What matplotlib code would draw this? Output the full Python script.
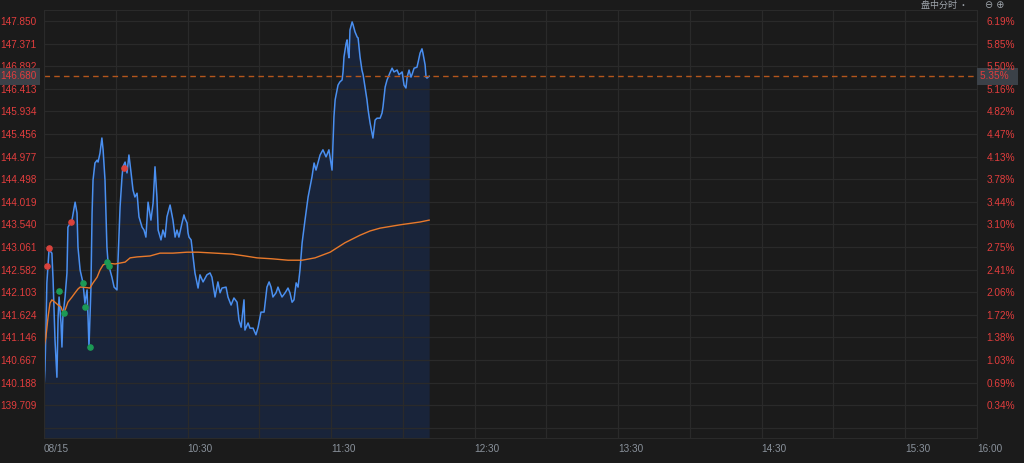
import matplotlib.pyplot as plt

# minutes since 09:30 and price for the intraday line
minutes = [0.0, 0.4, 0.8, 1.2, 2.1, 3.3, 3.8, 4.6, 5.4, 5.9, 6.3, 7.1, 7.5, 7.9, 8.8, 9.6,
           10.0, 11.7, 13.0, 13.8, 14.2, 15.1, 16.3, 17.1, 18.0, 18.4, 18.8, 19.6, 20.1,
           20.5, 21.3, 22.2, 22.6, 23.4, 24.2, 24.7, 25.5, 26.3, 26.8, 28.4, 29.3, 30.5,
           30.9, 31.8, 32.6, 33.0, 33.9, 34.7, 35.5, 36.4, 37.2, 38.0, 38.9, 39.7, 41.0,
           41.8, 42.6, 43.5, 44.7, 45.6, 46.4, 47.2, 47.7, 48.9, 49.7, 50.6, 51.4, 52.7,
           53.9, 54.8, 55.6, 56.4, 57.7, 58.5, 58.9, 59.8, 60.2, 60.6, 61.5, 62.3, 63.1,
           64.4, 65.2, 66.5, 68.1, 69.4, 70.2, 71.5, 72.7, 73.6, 74.4, 76.1, 76.9, 78.2,
           79.4, 80.7, 81.5, 82.4, 83.6, 84.0, 85.3, 86.1, 87.4, 88.6, 89.5, 90.7, 92.0,
           93.2, 94.1, 94.9, 95.7, 97.0, 97.8, 98.7, 99.5, 100.8, 102.0, 102.8, 103.7,
           104.5, 105.4, 106.2, 107.0, 107.9, 109.1, 110.4, 112.0, 112.9, 113.7, 115.4,
           116.6, 117.9, 119.1, 120.4, 121.2, 121.7, 122.5, 122.9, 123.7, 124.6, 125.0,
           125.4, 126.3, 126.7, 127.1, 127.5, 127.9, 128.8, 129.2, 130.0, 130.9, 131.3,
           132.1, 132.9, 133.4, 134.2, 135.0, 135.5, 136.3, 137.1, 137.5, 138.4, 139.2,
           140.5, 141.3, 141.7, 142.6, 143.4, 144.6, 145.5, 146.3, 147.6, 148.4, 149.7,
           150.5, 151.3, 151.8, 152.6, 153.4, 153.8, 154.7, 155.9, 156.4, 157.2, 158.0,
           158.4, 159.3, 159.7, 160.1, 161.0]
price = [140.07, 140.45, 141.30, 142.30, 143.00, 142.93, 142.36, 141.09, 140.30, 141.58,
         142.00, 141.45, 140.94, 141.58, 142.00, 142.51, 143.48, 143.63, 144.01, 143.78,
         143.06, 142.57, 142.30, 141.87, 142.15, 141.58, 140.94, 142.15, 143.78, 144.48,
         144.84, 144.90, 144.86, 145.05, 145.37, 145.12, 144.48, 143.06, 142.72, 142.42,
         142.21, 142.15, 142.72, 143.91, 144.54, 144.76, 144.86, 144.63, 145.01, 144.63,
         144.27, 144.12, 144.20, 143.70, 143.48, 143.42, 143.27, 144.01, 143.63, 143.99,
         144.76, 144.12, 143.42, 143.21, 143.42, 143.27, 143.70, 143.95, 143.63, 143.27,
         143.42, 143.27, 143.57, 143.74, 143.67, 143.57, 143.36, 143.27, 143.21, 142.85,
         142.51, 142.19, 142.47, 142.32, 142.47, 142.51, 142.42, 142.00, 142.32, 142.09,
         142.19, 142.21, 142.00, 141.83, 141.98, 141.89, 141.51, 141.36, 141.94, 141.30,
         141.45, 141.34, 141.34, 141.20, 141.36, 141.68, 141.68, 142.21, 142.32, 142.21,
         142.00, 142.09, 142.21, 142.09, 142.00, 142.09, 142.19, 142.09, 141.89, 141.94,
         142.30, 142.21, 142.57, 143.15, 143.63, 144.12, 144.54, 144.84, 144.69, 145.01,
         145.12, 144.97, 145.12, 144.69, 145.82, 146.18, 146.39, 146.49, 146.56, 146.60,
         146.77, 147.09, 147.38, 147.45, 147.19, 147.07, 147.66, 147.83, 147.77, 147.62,
         147.51, 147.49, 147.09, 146.81, 146.71, 146.45, 146.18, 145.96, 145.69, 145.48,
         145.37, 145.75, 145.79, 145.79, 145.90, 146.03, 146.45, 146.60, 146.75, 146.85,
         146.77, 146.81, 146.71, 146.77, 146.49, 146.43, 146.66, 146.81, 146.66, 146.71,
         146.85, 146.87, 146.98, 147.17, 147.26, 147.17, 146.92, 146.66, 146.64, 146.68]

# average price line
avg_minutes = [0.0, 0.8, 1.7, 2.5, 3.3, 4.6, 5.9, 7.1, 7.9, 8.8, 10.0, 11.7, 13.0, 14.2,
               15.1, 16.3, 19.2, 20.5, 22.2, 23.4, 24.7, 26.3, 29.7, 31.8, 33.9, 36.0,
               38.9, 44.3, 48.5, 53.9, 59.8, 64.4, 71.5, 78.6, 84.0, 89.0, 95.3, 102.0,
               107.9, 113.3, 119.6, 125.8, 132.1, 136.3, 140.5, 148.8, 157.2, 161.0]
avg_price = [140.94, 141.15, 141.58, 141.87, 141.94, 141.89, 141.83, 141.79, 141.68, 141.72,
             141.89, 142.00, 142.09, 142.17, 142.21, 142.21, 142.19, 142.30, 142.42, 142.57,
             142.68, 142.72, 142.70, 142.72, 142.74, 142.83, 142.85, 142.87, 142.93, 142.93,
             142.95, 142.95, 142.93, 142.91, 142.87, 142.83, 142.81, 142.78, 142.78, 142.83,
             142.95, 143.15, 143.31, 143.40, 143.46, 143.53, 143.59, 143.63]

# signal dots
red_minutes = [1.25, 2.1, 11.3, 33.4]
red_price = [142.66, 143.04, 143.59, 144.74]
green_minutes = [6.3, 8.4, 16.3, 17.1, 19.2, 26.3, 27.2]
green_price = [142.13, 141.66, 142.30, 141.79, 140.94, 142.74, 142.66]

prev_close = 139.230
last_price = 146.680
last_pct = '5.35%'
price_labels = ['139.709', '140.188', '140.667', '141.146', '141.624', '142.103', '142.582',
                '143.061', '143.540', '144.019', '144.498', '144.977', '145.456', '145.934',
                '146.413', '146.892', '147.371', '147.850']
pct_labels = ['0.34%', '0.69%', '1.03%', '1.38%', '1.72%', '2.06%', '2.41%', '2.75%',
              '3.10%', '3.44%', '3.78%', '4.13%', '4.47%', '4.82%', '5.16%', '5.50%',
              '5.85%', '6.19%']
time_ticks = [0, 60, 120, 180, 240, 300, 360, 390]
time_labels = ['08/15', '10:30', '11:30', '12:30', '13:30', '14:30', '15:30', '16:00']

bg = '#1b1b1b'
grid_c = '#2a2a2a'
red = '#e23d3d'
font = 'Liberation Sans'
fs = 7.2

fig = plt.figure(figsize=(10.24, 4.63), dpi=100, facecolor=bg)
ax = fig.add_axes([44 / 1024, 25 / 463, 933 / 1024, 428 / 463])
ax.set_facecolor(bg)

ax.fill_between(minutes, price, 139.0, color='#19243a', lw=0)
ax.plot(minutes, price, color='#4a8ff0', lw=1.1)
ax.plot(avg_minutes, avg_price, color='#e8792b', lw=1.0)
ax.scatter(red_minutes, red_price, s=14, color='#d9423c', zorder=5)
ax.scatter(green_minutes, green_price, s=14, color='#1c9a55', zorder=5)
ax.axhline(last_price, color='#b4561c', lw=1.0, ls=(0, (4, 3)))

ax.set_xlim(0, 390)
ax.set_ylim(139.012, 148.083)

levels = [float(v) for v in price_labels]
ax.set_yticks([prev_close] + levels)
ax.set_yticklabels([''] + price_labels)
ax.set_xticks(time_ticks)
ax.set_xticklabels(time_labels)
ax.set_xticks(range(0, 391, 30), minor=True)
ax.grid(True, which='both', color=grid_c, lw=0.9)
ax.tick_params(length=0, which='both')
for lab in ax.get_yticklabels():
    lab.set_color(red)
    lab.set_family(font)
    lab.set_fontsize(fs)
for lab in ax.get_xticklabels():
    lab.set_color('#8a929c')
    lab.set_family(font)
    lab.set_fontsize(fs)
    lab.set_ha('left')
ax.tick_params(axis='y', pad=5.5)
ax.tick_params(axis='x', pad=4)
for sp in ax.spines.values():
    sp.set_color(grid_c)

ax2 = ax.twinx()
ax2.set_ylim(ax.get_ylim())
ax2.set_yticks(levels)
ax2.set_yticklabels(pct_labels)
ax2.tick_params(length=0, pad=7)
for lab in ax2.get_yticklabels():
    lab.set_color(red)
    lab.set_family(font)
    lab.set_fontsize(fs)
for sp in ax2.spines.values():
    sp.set_visible(False)

# last price boxes on both sides
ax.text(-0.0465, last_price, '146.680', transform=ax.get_yaxis_transform(), ha='left',
        va='center', color=red, fontsize=fs, family=font,
        bbox=dict(boxstyle='square,pad=0.35', fc='#3b4148', ec='none'))
ax.text(1.0035, last_price, last_pct + '  ', transform=ax.get_yaxis_transform(), ha='left',
        va='center', color=red, fontsize=fs, family=font,
        bbox=dict(boxstyle='square,pad=0.35', fc='#3b4148', ec='none'))

# toolbar text at the top right corner
fig.text(921 / 1024, 0.999, '盘中分时 ·', color='#a0a6ad', fontsize=6.5, va='top',
         family=['Noto Sans CJK SC', 'DejaVu Sans'])
fig.text(985 / 1024, 0.999, '⊖ ⊕', color='#a0a6ad', fontsize=7, va='top')

fig.savefig('out.png', dpi=100, facecolor=bg)
